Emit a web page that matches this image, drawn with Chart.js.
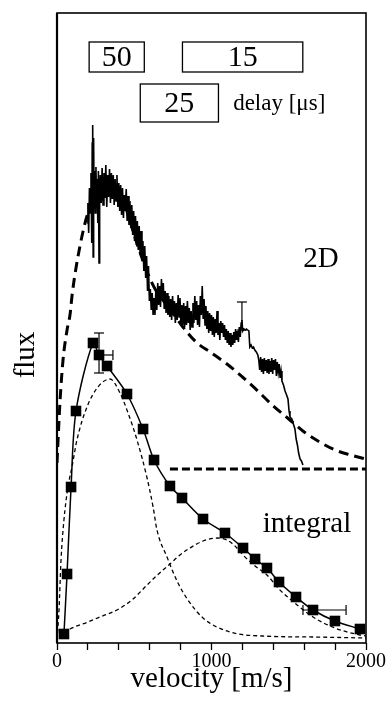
<!DOCTYPE html>
<html><head><meta charset="utf-8">
<script src="https://cdn.jsdelivr.net/npm/chart.js@4.4.1/dist/chart.umd.min.js"></script>
<style>html,body{margin:0;padding:0;background:#fff}#wrap{width:389px;height:702px}</style>
</head><body><div id="wrap"><canvas id="c" width="389" height="702"></canvas></div>
<script>
// ---- data (velocity in m/s, flux in arbitrary units) ----
const velocityTickLabels = [0, 1000, 2000];

// thick dashed fit of the 2D data
const fitV = [0,6,20,39,65,84,100,150,200,250,300,350,400,450,500,550,600,650,700,750,800,900,1000,1100,1200,1300,1400,1500,1600,1700,1800,1900,2000];
const fitY = [180,200,243,283,313,328,351,398,430,446,456,460,453,433,408,385,365,350,340,330,319,301,290,279,266,252,237,224,211,201,193,188,184];

// horizontal dashed baseline
const baseV = [731, 2000];
const baseY = [174, 174];

// noisy 2D measurement
const noiseV = [195,200,205,210,215,220,225,228,231,234,237,240,244,248,252,256,260,264,268,272,276,280,
286,292,298,304,310,316,322,328,334,340,346,352,358,364,370,376,382,388,394,400,406,412,418,424,430,436,
442,448,454,460,466,472,478,484,490,496,502,508,514,520,526,532,538,544,550,556,562,568,574,580,586,592,598,604,610,616,622,
628,634,640,646,652,658,664,670,676,682,688,694,700,706,712,718,724,730,736,742,748,754,760,766,772,778,784,790,796,802,808,814,820,826,832,838,844,850,856,862,868,874,880,886,892,898,904,910,916,922,928,934,940,946,952,958,964,970,976,982,988,994,1000,1006,1012,1018,1024,1030,1036,1042,1048,1054,1060,1066,1072,1078,1084,1090,
1096,1102,1108,1114,1120,1126,1132,1138,1144,1150,1156,1162,1168,1174,1180,1186,1192,1197,1202,1210,1218,1226,1234,1242,1248,1256,1264,1272,1280,1290,1300,
1306,1312,1318,1324,1330,1336,1342,1348,1354,1360,1366,1372,1378,1384,1390,1396,1402,1408,1414,1420,1426,1432,1438,1444,1450,
1456,1466,1476,1486,1495,1502,1508,1520,1532,1540,1548,1556,1564,1573,1582,1592];
const noiseY = [420,440,410,455,430,470,400,500,518,386,505,440,472,430,476,440,464,420,472,380,455,468,
440,475,438,470,445,478,436,468,446,474,440,470,444,468,438,464,442,468,436,460,432,458,428,455,425,448,
432,454,422,447,418,442,415,438,408,432,402,427,398,422,393,417,388,412,382,402,372,397,365,387,352,377,342,354,333,350,328,
345,328,354,333,360,338,357,336,364,343,360,334,352,330,350,328,347,326,344,323,347,328,342,320,340,323,348,326,345,320,338,318,340,316,337,318,342,320,335,313,332,316,340,320,347,323,342,318,338,316,347,328,357,324,344,318,337,314,332,310,330,312,328,308,326,306,324,310,332,308,320,303,322,310,320,306,318,303,
314,300,312,298,310,296,308,298,311,300,314,303,312,301,316,306,320,323,312,314,313,314,313,312,296,298,295,296,293,291,288,
283,273,286,271,284,269,285,272,283,270,284,269,282,271,285,269,283,273,284,267,281,271,279,265,272,
262,258,252,248,244,232,226,224,218,214,204,198,190,184,182,178];

// integral (time-integrated) data points
const intV = [45,65,91,123,233,272,324,453,557,628,731,809,945,1087,1204,1282,1359,1437,1547,1657,1799,1961];
const intY = [9,69,156,232,300,288,277,249,214,183,157,145,124,110,95,84,75,61,46,33,22,14];

// two component fits (thin dotted)
const c1V = [0,13,26,45,71,97,129,194,265,343,408,460,518,583,622,647,712,783,848,945,1120,1330,1650,2000];
const c1Y = [3,33,83,123,156,176,203,236,256,264,250,230,203,165,136,113,86,60,43,25,11,7,6,5];
const c2V = [45,84,200,278,400,492,583,650,731,796,861,945,1036,1100,1152,1204,1282,1359,1437,1547,1657,1799,1961,2000];
const c2Y = [10,14,21,26,34,44,58,68,79,88,95,102,105,103,97,88,77,68,54,39,26,15,8,7];

// error bars
const vErrV = [272, 1197];
const vErrLo = [270, 313];
const vErrHi = [310, 341];
const hErrY = [33, 288];
const hErrLo = [1592, 272];
const hErrHi = [1871, 362];

// delay windows [µs] shown as boxes on the velocity axis
const delayLabels = ['50', '15', '25'];
const delayFrom = [208, 812, 539];
const delayTo = [565, 1591, 1045];
const delayHi = [601, 601, 559];
const delayLo = [571, 571, 521];

// ---- helpers ----
const pts = (xs, ys) => xs.map((v, i) => ({x: v, y: ys[i]}));
const SERIF = '"Liberation Serif", "Times New Roman", serif';

const annot = {
  id: 'annot',
  afterDatasetsDraw(chart) {
    const {ctx, chartArea: a, scales: {x, y}} = chart;
    ctx.save();
    ctx.strokeStyle = '#000';
    ctx.fillStyle = '#000';
    const seg = (x1, y1, x2, y2) => { ctx.beginPath(); ctx.moveTo(x1, y1); ctx.lineTo(x2, y2); ctx.stroke(); };
    // error bars
    ctx.lineWidth = 1.2;
    vErrV.forEach((v, i) => {
      const px = x.getPixelForValue(v), p1 = y.getPixelForValue(vErrLo[i]), p2 = y.getPixelForValue(vErrHi[i]);
      seg(px, p1, px, p2); seg(px - 5, p2, px + 5, p2); seg(px - 5, p1, px + 5, p1);
    });
    hErrY.forEach((v, i) => {
      const py = y.getPixelForValue(v), p1 = x.getPixelForValue(hErrLo[i]), p2 = x.getPixelForValue(hErrHi[i]);
      seg(p1, py, p2, py); seg(p1, py - 5, p1, py + 5); seg(p2, py - 5, p2, py + 5);
    });
    // delay boxes
    ctx.lineWidth = 1.3;
    ctx.textAlign = 'center';
    ctx.textBaseline = 'middle';
    ctx.font = '30px ' + SERIF;
    delayLabels.forEach((t, i) => {
      const x1 = x.getPixelForValue(delayFrom[i]), x2 = x.getPixelForValue(delayTo[i]);
      const y1 = y.getPixelForValue(delayHi[i]), y2 = y.getPixelForValue(delayLo[i]);
      ctx.strokeRect(x1, y1, x2 - x1, y2 - y1);
      ctx.fillText(t, (x1 + x2) / 2, (y1 + y2) / 2 + 1);
    });
    ctx.font = '23px ' + SERIF;
    ctx.textAlign = 'left';
    ctx.fillText('delay [\u03bcs]', x.getPixelForValue(1140), y.getPixelForValue(539));
    // curve labels
    ctx.font = '29px ' + SERIF;
    ctx.textAlign = 'center';
    ctx.textBaseline = 'alphabetic';
    ctx.fillText('2D', x.getPixelForValue(1709), y.getPixelForValue(376));
    ctx.fillText('integral', x.getPixelForValue(1618), y.getPixelForValue(111));
    // y title
    ctx.save();
    ctx.translate(26, (a.top + a.bottom) / 2 + 27);
    ctx.rotate(-Math.PI / 2);
    ctx.textBaseline = 'middle';
    ctx.fillText('flux', 0, 0);
    ctx.restore();
    // frame
    ctx.lineWidth = 1.6;
    ctx.strokeRect(a.left, a.top, a.right - a.left, a.bottom - a.top);
    ctx.lineWidth = 2.2;
    seg(a.left, a.top, a.left, a.bottom);
    ctx.restore();
  }
};

new Chart(document.getElementById('c'), {
  type: 'scatter',
  data: {
    datasets: [
      {label: '2D fit', data: pts(fitV, fitY), showLine: true, borderColor: '#000', borderWidth: 3, borderDash: [10, 6], pointRadius: 0, cubicInterpolationMode: 'monotone'},
      {label: 'baseline', data: pts(baseV, baseY), showLine: true, borderColor: '#000', borderWidth: 3, borderDash: [8, 4], pointRadius: 0},
      {label: '2D', data: pts(noiseV, noiseY), showLine: true, borderColor: '#000', borderWidth: 1.6, pointRadius: 0, tension: 0},
      {label: 'integral', data: pts(intV, intY), showLine: true, borderColor: '#000', backgroundColor: '#000', borderWidth: 1.5, pointStyle: 'rect', pointRadius: 7.5, pointBorderWidth: 0, tension: 0.3},
      {label: 'component 1', data: pts(c1V, c1Y), showLine: true, borderColor: '#000', borderWidth: 1.3, borderDash: [4, 3], pointRadius: 0, cubicInterpolationMode: 'monotone'},
      {label: 'component 2', data: pts(c2V, c2Y), showLine: true, borderColor: '#000', borderWidth: 1.3, borderDash: [4, 3], pointRadius: 0, cubicInterpolationMode: 'monotone'}
    ]
  },
  options: {
    responsive: false,
    animation: false,
    layout: {padding: {left: 57, right: 23, top: 13, bottom: 0}},
    plugins: {legend: {display: false}, tooltip: {enabled: false}},
    scales: {
      x: {
        type: 'linear', min: 0, max: 2000,
        border: {display: false},
        grid: {display: true, drawOnChartArea: false, drawTicks: true, tickLength: 7, tickColor: '#000', tickWidth: 1.3},
        ticks: {stepSize: 200, autoSkip: false, maxRotation: 0, padding: 0, color: '#000',
          font: {family: SERIF, size: 20},
          callback: v => velocityTickLabels.includes(v) ? String(v) : ''},
        title: {display: true, text: 'velocity [m/s]', color: '#000', font: {family: SERIF, size: 29}, padding: {top: 0, bottom: 5}},
        afterFit: s => { s.height = 59; }
      },
      y: {type: 'linear', min: 0, max: 630, display: false}
    }
  },
  plugins: [annot]
});
</script>
</body></html>
